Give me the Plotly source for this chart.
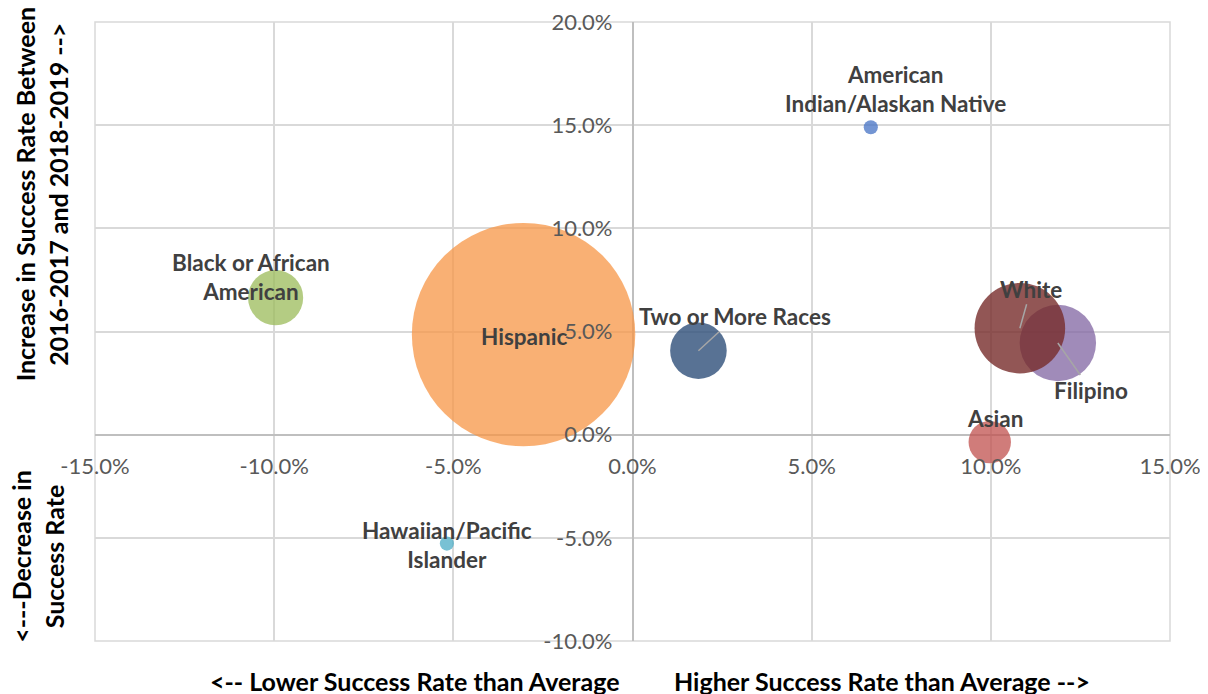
import plotly.graph_objects as go

# ---- data ----
groups = ["American<br>Indian/Alaskan Native", "Black or African<br>American", "Hispanic",
          "Two or More Races", "Filipino", "White", "Asian", "Hawaiian/Pacific<br>Islander"]
rate_vs_avg = [6.65, -9.96, -3.04, 1.84, 11.87, 10.81, 9.97, -5.18]      # % difference from average
rate_change = [14.9, 6.64, 4.85, 4.07, 4.44, 5.16, -0.36, -5.28]         # % change 2016-17 -> 2018-19
headcount = [50, 760, 12480, 800, 1460, 2050, 450, 50]
colors = ["rgba(68,114,196,0.75)", "rgba(155,187,89,0.75)", "rgba(247,150,70,0.75)",
          "rgba(46,79,121,0.8)", "rgba(128,100,162,0.75)", "rgba(119,44,42,0.8)",
          "rgba(192,80,77,0.75)", "rgba(75,172,198,0.75)"]
x_ticks = [-15, -10, -5, 0, 5, 10, 15]
y_ticks = [-10, -5, 0, 5, 10, 15, 20]

# label placement (pixel offsets of label centre from bubble centre), leader flag
label_dx = [25, -25, 0, 37, 33, 11, 5, 0]
label_dy = [-38, -21, 2, -34, 47, -39, -24, 1]
leader = [False, False, False, True, True, True, False, False]

FONT = "Lato"
fig = go.Figure()
for i in range(len(groups)):
    fig.add_trace(go.Scatter(
        x=[rate_vs_avg[i]], y=[rate_change[i]], mode="markers",
        marker=dict(size=[headcount[i]], sizemode="area", sizeref=0.5, opacity=1,
                    color=colors[i], line=dict(width=0)),
        name=groups[i], showlegend=False, hoverinfo="skip"))

label_font = dict(family=FONT, size=22.5, color="#404040")
for i in range(len(groups)):
    if leader[i]:
        fig.add_annotation(x=rate_vs_avg[i], y=rate_change[i], text="<b>%s</b>" % groups[i],
                           showarrow=True, arrowhead=0, arrowwidth=1.5, arrowcolor="#a6a6a6",
                           ax=label_dx[i], ay=label_dy[i], standoff=0, font=label_font)
    else:
        fig.add_annotation(x=rate_vs_avg[i], y=rate_change[i], text="<b>%s</b>" % groups[i],
                           showarrow=False, xshift=label_dx[i], yshift=-label_dy[i],
                           font=label_font)

# axis titles
title_font = dict(family=FONT, size=25, color="#000000")
fig.add_annotation(xref="paper", yref="paper", x=-0.050, y=0.722, xanchor="center", yanchor="middle",
                   text="<b>Increase in Success Rate Between<br>2016-2017 and 2018-2019 --></b>",
                   textangle=-90, showarrow=False, font=title_font)
fig.add_annotation(xref="paper", yref="paper", x=-0.053, y=0.136, xanchor="center", yanchor="middle",
                   text="<b><---Decrease in<br>Success Rate</b>",
                   textangle=-90, showarrow=False, font=title_font)
fig.add_annotation(xref="paper", yref="paper", x=0.298, y=-0.064, xanchor="center", yanchor="middle",
                   text="<b><-- Lower Success Rate than Average</b>", showarrow=False, font=title_font)
fig.add_annotation(xref="paper", yref="paper", x=0.732, y=-0.064, xanchor="center", yanchor="middle",
                   text="<b>Higher Success Rate than Average --></b>", showarrow=False, font=title_font)

# plot-area outline (matches gridline colour)
fig.add_shape(type="rect", xref="x domain", yref="y domain", x0=0, x1=1, y0=0, y1=1,
              line=dict(color="#d9d9d9", width=1.5), layer="below")

tick_font = dict(family=FONT, size=22, color="#595959")
# page body has an 8px default margin, so the figure is 8px smaller and margins compensate
fig.update_layout(
    width=1200, height=686,
    margin=dict(l=87, r=38, t=14, b=53, autoexpand=False),
    paper_bgcolor="white", plot_bgcolor="white",
    xaxis=dict(range=[-15, 15], tickvals=x_ticks, ticktext=["%.1f%%" % v for v in x_ticks],
               anchor="free", position=1/3, automargin=False, ticklabeloverflow="allow",
               showgrid=True, gridcolor="#d9d9d9", gridwidth=1.5,
               zeroline=True, zerolinecolor="#bfbfbf", zerolinewidth=1.5,
               showline=False, ticks="", ticklabelstandoff=16, tickfont=tick_font),
    yaxis=dict(range=[-10, 20], tickvals=y_ticks, ticktext=["%.1f%%" % v for v in y_ticks],
               anchor="free", position=0.5, automargin=False, ticklabeloverflow="allow",
               showgrid=True, gridcolor="#d9d9d9", gridwidth=1.5,
               zeroline=True, zerolinecolor="#bfbfbf", zerolinewidth=1.5,
               showline=False, ticks="", ticklabelstandoff=20, tickfont=tick_font),
)

fig.write_html("out.html")
